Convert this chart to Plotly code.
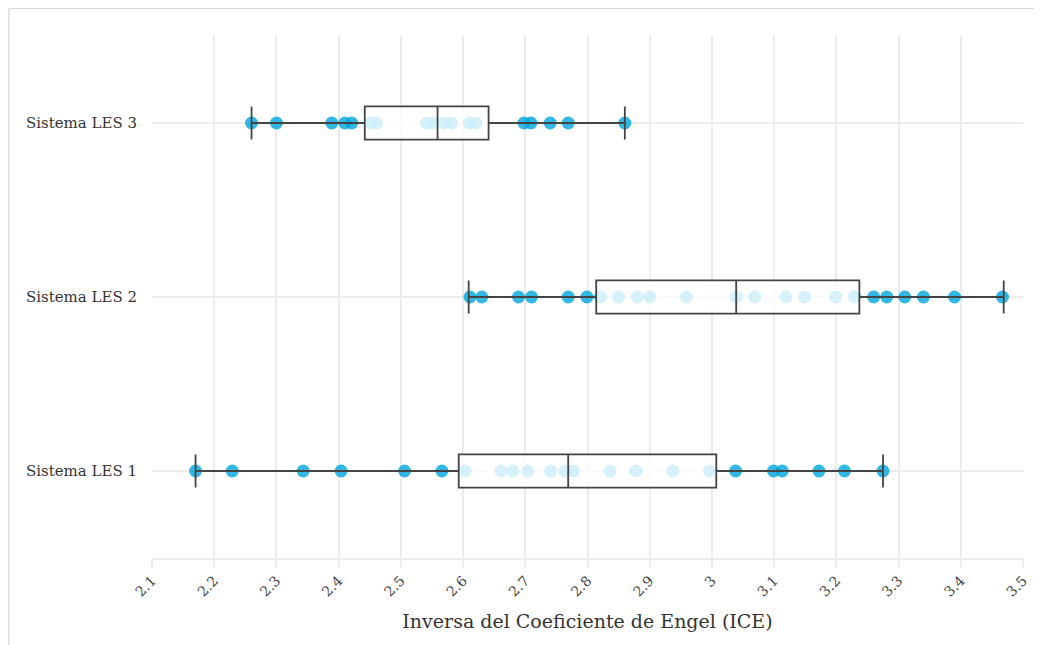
import plotly.graph_objects as go

# ---------------- data ----------------
categories = ["Sistema LES 1", "Sistema LES 2", "Sistema LES 3"]

les1_values = [2.170, 2.229, 2.343, 2.404, 2.506, 2.566, 2.603, 2.661, 2.680, 2.704,
               2.741, 2.764, 2.777, 2.836, 2.878, 2.937, 2.996, 3.038, 3.099, 3.113,
               3.172, 3.213, 3.275]
les2_values = [2.611, 2.630, 2.689, 2.710, 2.769, 2.799, 2.821, 2.850, 2.880, 2.900,
               2.959, 3.039, 3.069, 3.119, 3.149, 3.199, 3.229, 3.260, 3.281, 3.310,
               3.340, 3.390, 3.467]
les3_values = [2.260, 2.300, 2.389, 2.410, 2.421, 2.453, 2.461, 2.541, 2.551, 2.570,
               2.581, 2.610, 2.621, 2.698, 2.709, 2.740, 2.769, 2.860]

# box statistics as drawn in the reference (same order as categories)
box_lowerfence = [2.170, 2.609, 2.260]
box_q1 = [2.593, 2.814, 2.442]
box_median = [2.769, 3.039, 2.559]
box_q3 = [3.007, 3.237, 2.641]
box_upperfence = [3.275, 3.469, 2.860]

x_tickvals = [2.1, 2.2, 2.3, 2.4, 2.5, 2.6, 2.7, 2.8, 2.9, 3.0, 3.1, 3.2, 3.3, 3.4, 3.5]
x_ticktext = ["2.1", "2.2", "2.3", "2.4", "2.5", "2.6", "2.7", "2.8", "2.9", "3",
              "3.1", "3.2", "3.3", "3.4", "3.5"]
x_title = "Inversa del Coeficiente de Engel (ICE)"

# ---------------- figure ----------------
series = [les1_values, les2_values, les3_values]
pts_x = []
pts_y = []
for cat, vals in zip(categories, series):
    pts_x.extend(vals)
    pts_y.extend([cat] * len(vals))

FONT = "DejaVu Serif"
GRID = "#ececec"

fig = go.Figure()

# points (box itself invisible)
fig.add_trace(go.Box(
    x=pts_x, y=pts_y, orientation="h",
    boxpoints="all", jitter=0, pointpos=0,
    fillcolor="rgba(0,0,0,0)", line=dict(width=0, color="rgba(0,0,0,0)"),
    whiskerwidth=0, width=0.19,
    marker=dict(size=13, color="rgba(0,165,222,0.8)", line=dict(width=0)),
    showlegend=False, hoverinfo="x",
))

# box drawn on top with translucent white fill
fig.add_trace(go.Box(
    y=categories, orientation="h",
    q1=box_q1, median=box_median, q3=box_q3,
    lowerfence=box_lowerfence, upperfence=box_upperfence,
    boxpoints=False,
    fillcolor="rgba(255,255,255,0.8)",
    line=dict(color="#444444", width=1.8),
    whiskerwidth=1, width=0.19,
    showlegend=False,
))

BORDER = dict(color="#d6d6d6", width=1.2)
fig.update_layout(
    width=1034, height=637, autosize=False,
    margin=dict(l=144, r=17, t=28, b=87, pad=0),
    plot_bgcolor="white", paper_bgcolor="white",
    boxmode="overlay",
    font=dict(family=FONT, color="#333333"),
    xaxis=dict(
        range=[2.1, 3.5], tickvals=x_tickvals, ticktext=x_ticktext,
        tickangle=-45, tickfont=dict(family=FONT, size=14, color="#444444"),
        showgrid=True, gridcolor=GRID, gridwidth=2,
        showline=True, linecolor=GRID, linewidth=2,
        ticks="outside", ticklen=7, tickwidth=2, tickcolor=GRID,
        zeroline=False,
        title=dict(text=x_title, font=dict(family=FONT, size=19, color="#333333"), standoff=16),
    ),
    yaxis=dict(
        type="category", categoryorder="array", categoryarray=categories,
        range=[-0.5, 2.5],
        showgrid=True, gridcolor=GRID, gridwidth=1.5,
        zeroline=False, showline=False, ticks="",
        ticklabelstandoff=14,
        tickfont=dict(family=FONT, size=15, color="#333333"),
    ),
    shapes=[
        dict(type="line", xref="paper", yref="paper",
             x0=-0.1643, x1=1.05, y0=1.0527, y1=1.0527, line=BORDER, layer="below"),
        dict(type="line", xref="paper", yref="paper",
             x0=-0.1643, x1=-0.1643, y0=-0.2, y1=1.0527, line=BORDER, layer="below"),
    ],
)

fig.write_html("out.html")
